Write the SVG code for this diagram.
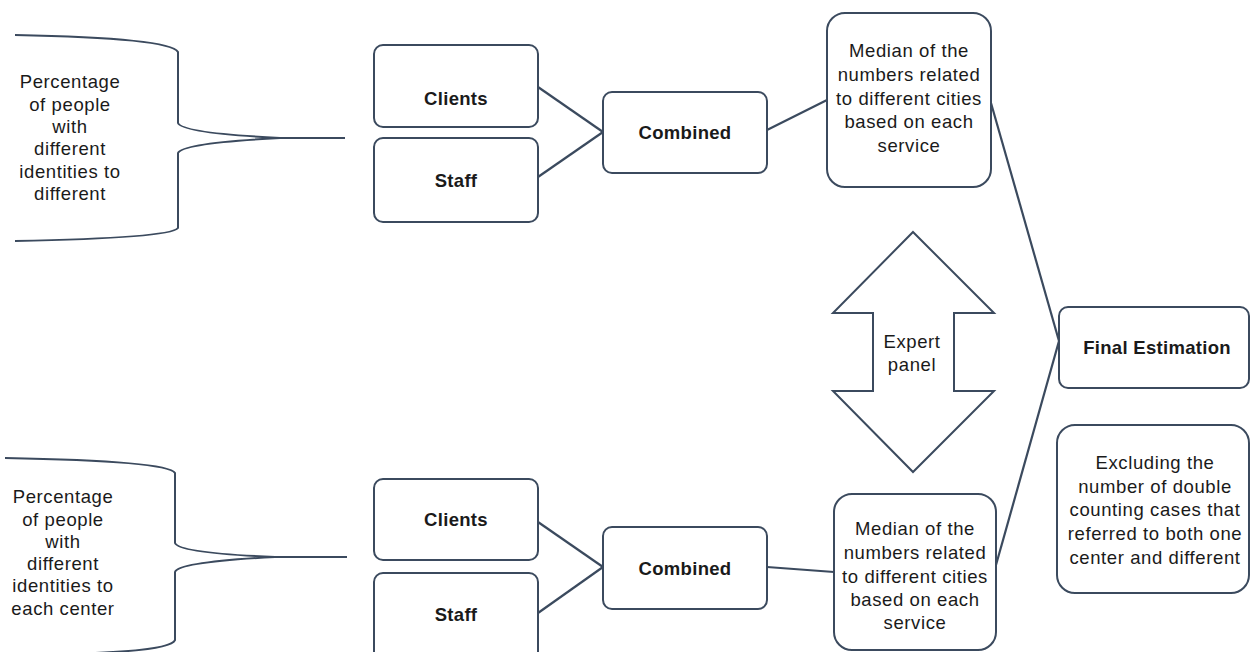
<svg xmlns="http://www.w3.org/2000/svg" width="1250" height="652" viewBox="0 0 1250 652">
<style>
.box{fill:#fff;stroke:#3b4a5e;stroke-width:2}
.ln{fill:none;stroke:#3b4a5e;stroke-width:2.2}
.br{fill:none;stroke:#3b4a5e;stroke-width:2}
text{font-family:"Liberation Sans",Arial,sans-serif;font-size:18.5px;letter-spacing:0.6px;fill:#1a1a1a;text-anchor:middle;dominant-baseline:central}
.b{font-weight:bold;letter-spacing:0.3px}
</style>
<rect width="1250" height="652" fill="#fff"/>
<g id="connectors">
<line class="ln" x1="538" y1="87" x2="603" y2="132"/>
<line class="ln" x1="538" y1="177" x2="603" y2="132"/>
<line class="ln" x1="767" y1="130" x2="827" y2="100"/>
<line class="ln" x1="991" y1="103" x2="1059" y2="341"/>
<line class="ln" x1="996" y1="565" x2="1059" y2="341"/>
<line class="ln" x1="538" y1="522" x2="603" y2="567"/>
<line class="ln" x1="538" y1="613" x2="603" y2="567"/>
<line class="ln" x1="767" y1="567" x2="834" y2="572"/>
</g>
<g id="brace-top">
<path class="br" d="M15,35 Q170,38 178,52 L178,123 Q182,133 280,138 L345,138 M280,138 Q182,143 178,153 L178,228 Q170,238 15,241"/>
<text x="70" y="81">Percentage</text>
<text x="70" y="104">of people</text>
<text x="70" y="126">with</text>
<text x="70" y="148">different</text>
<text x="70" y="171">identities to</text>
<text x="70" y="193">different</text>
</g>
<g id="brace-bottom">
<path class="br" d="M5,458 Q168,461 175,473 L175,543 Q179,553 275,557 L347,557 M275,557 Q179,562 175,572 L175,640 Q170,652 60,654"/>
<text x="63" y="496">Percentage</text>
<text x="63" y="519">of people</text>
<text x="63" y="541">with</text>
<text x="63" y="563">different</text>
<text x="63" y="585">identities to</text>
<text x="63" y="608">each center</text>
</g>
<g id="clients-top"><rect class="box" x="374" y="45" width="164" height="82" rx="9"/><text class="b" x="456" y="98">Clients</text></g>
<g id="staff-top"><rect class="box" x="374" y="138" width="164" height="84" rx="9"/><text class="b" x="456" y="180">Staff</text></g>
<g id="combined-top"><rect class="box" x="603" y="92" width="164" height="81" rx="9"/><text class="b" x="685" y="132">Combined</text></g>
<g id="median-top"><rect class="box" x="827" y="13" width="164" height="174" rx="18"/>
<text x="909" y="50">Median of the</text>
<text x="909" y="74">numbers related</text>
<text x="909" y="98">to different cities</text>
<text x="909" y="121">based on each</text>
<text x="909" y="145">service</text>
</g>
<g id="expert-panel">
<path class="box" d="M913,232 L994,313 L954,313 L954,391 L994,391 L913,472 L833,391 L873,391 L873,313 L833,313 Z" stroke-width="1.5"/>
<text x="912" y="341">Expert</text>
<text x="912" y="364">panel</text>
</g>
<g id="final-estimation"><rect class="box" x="1059" y="307" width="190" height="81" rx="9"/><text class="b" x="1157" y="347">Final Estimation</text></g>
<g id="excluding"><rect class="box" x="1057" y="425" width="192" height="168" rx="18"/>
<text x="1155" y="462">Excluding the</text>
<text x="1155" y="486">number of double</text>
<text x="1155" y="509">counting cases that</text>
<text x="1155" y="533">referred to both one</text>
<text x="1155" y="557">center and different</text>
</g>
<g id="clients-bottom"><rect class="box" x="374" y="479" width="164" height="81" rx="9"/><text class="b" x="456" y="519">Clients</text></g>
<g id="staff-bottom"><rect class="box" x="374" y="573" width="164" height="90" rx="9"/><text class="b" x="456" y="614">Staff</text></g>
<g id="combined-bottom"><rect class="box" x="603" y="527" width="164" height="82" rx="9"/><text class="b" x="685" y="568">Combined</text></g>
<g id="median-bottom"><rect class="box" x="834" y="494" width="162" height="156" rx="18"/>
<text x="915" y="528">Median of the</text>
<text x="915" y="552">numbers related</text>
<text x="915" y="576">to different cities</text>
<text x="915" y="599">based on each</text>
<text x="915" y="622">service</text>
</g>
</svg>
